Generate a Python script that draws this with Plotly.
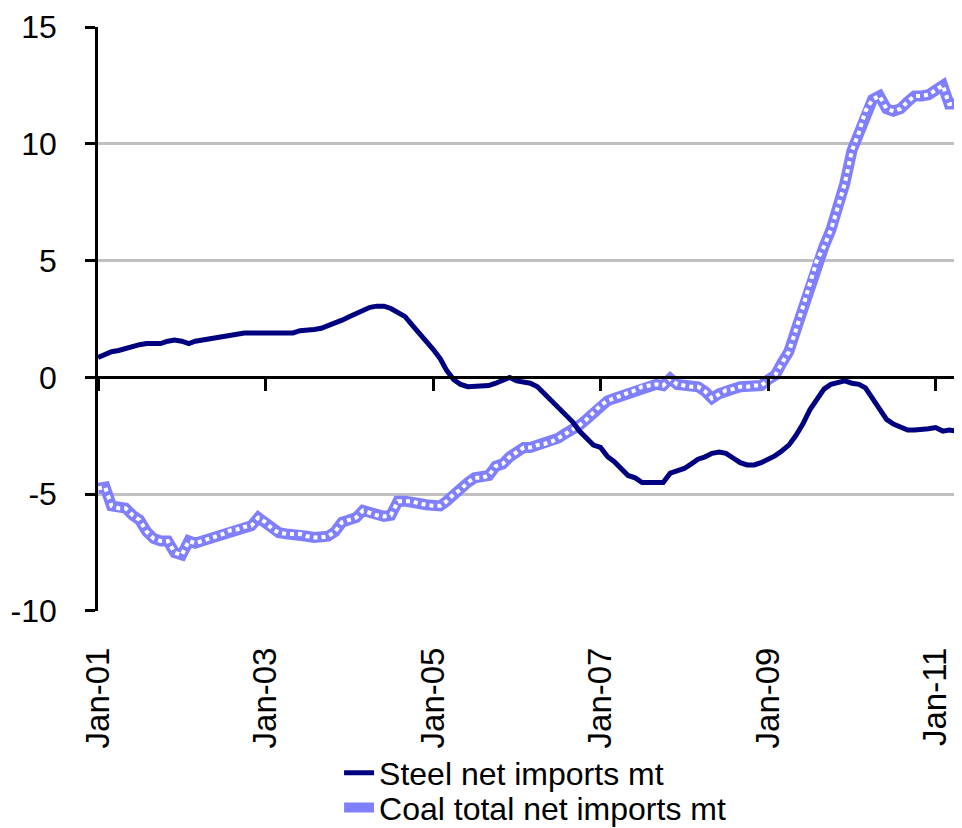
import pandas
import plotly.graph_objects as go

# monthly, Jan-2001 .. Apr-2011
months = pandas.date_range('2001-01-01', periods=124, freq='MS')

steel = [0.85, 1.0, 1.1, 1.15, 1.25, 1.3, 1.4, 1.45, 1.45, 1.45, 1.55, 1.6,
         1.55, 1.45, 1.55, 1.6, 1.65, 1.75, 1.8, 1.85, 1.9, 1.9, 1.9, 1.9,
         1.9, 1.9, 1.9, 1.9, 1.9, 2.0, 2.0, 2.05, 2.1, 2.2, 2.3, 2.45,
         2.6, 2.75, 2.9, 3.0, 3.05, 3.05, 2.95, 2.8, 2.6, 2.25, 1.9, 1.6,
         1.2, 0.8, 0.3, -0.1, -0.3, -0.4, -0.4, -0.4, -0.35, -0.25, -0.1, 0.0,
         -0.15, -0.2, -0.25, -0.4, -0.7, -1.0, -1.3, -1.6, -1.9, -2.3, -2.6, -2.9,
         -3.0, -3.4, -3.6, -3.9, -4.2, -4.3, -4.5, -4.5, -4.5, -4.5, -4.1, -4.0,
         -3.9, -3.7, -3.5, -3.4, -3.25, -3.2, -3.25, -3.45, -3.65, -3.75, -3.75, -3.65,
         -3.5, -3.35, -3.15, -2.9, -2.5, -2.0, -1.4, -0.9, -0.5, -0.3, -0.25, -0.15,
         -0.25, -0.3, -0.45, -0.9, -1.35, -1.8, -2.0, -2.1, -2.25, -2.25, -2.25, -2.2,
         -2.15, -2.3, -2.25, -2.3]

coal = [-4.75, -4.7, -5.5, -5.6, -5.6, -5.9, -6.1, -6.6, -6.9, -7.0, -7.0, -7.5,
        -7.6, -7.0, -7.1, -7.0, -6.9, -6.8, -6.7, -6.55, -6.5, -6.4, -6.35, -6.0,
        -6.2, -6.5, -6.65, -6.7, -6.7, -6.7, -6.8, -6.85, -6.85, -6.8, -6.6, -6.2,
        -6.1, -6.0, -5.7, -5.8, -5.9, -5.95, -5.9, -5.3, -5.3, -5.3, -5.4, -5.45,
        -5.5, -5.5, -5.3, -5.0, -4.8, -4.5, -4.3, -4.3, -4.2, -3.8, -3.7, -3.4,
        -3.2, -3.0, -3.0, -2.9, -2.85, -2.75, -2.6, -2.4, -2.25, -2.05, -1.8, -1.5,
        -1.2, -1.0, -0.9, -0.8, -0.65, -0.55, -0.4, -0.35, -0.3, -0.35, -0.05, -0.3,
        -0.35, -0.4, -0.4, -0.6, -0.9, -0.7, -0.55, -0.5, -0.4, -0.4, -0.35, -0.35,
        -0.1, 0.1, 0.6, 1.1, 2.0, 3.0, 3.9, 5.0, 5.6, 6.3, 7.3, 8.3,
        9.7, 10.5, 11.4, 11.9, 12.05, 11.5, 11.4, 11.5, 11.8, 12.05, 12.05, 12.1,
        12.3, 12.5, 11.7, 11.7]

tick_dates = ['2001-01-01', '2003-01-01', '2005-01-01', '2007-01-01', '2009-01-01', '2011-01-01']
tick_text = ['Jan-01', 'Jan-03', 'Jan-05', 'Jan-07', 'Jan-09', 'Jan-11']
y_ticks = [-10, -5, 0, 5, 10, 15]
y_tick_text = ['-10', '-5', '0', '5', '10', '15']

x_range = ['2001-01-01', '2011-04-26']
y_range = [-10, 15]
font = 'Liberation Sans, Arial, sans-serif'

# plot area sits in the upper part; legend lives below it inside the paper
y_dom = [0.2887, 1.0]
zero_pos = y_dom[0] + (0 - y_range[0]) / (y_range[1] - y_range[0]) * (y_dom[1] - y_dom[0])

fig = go.Figure()

fig.add_trace(go.Scatter(
    x=months, y=steel, name='Steel net imports mt', mode='lines',
    line=dict(color='#000080', width=5), xaxis='x2', legend='legend'))

fig.add_trace(go.Scatter(
    x=months, y=coal, name='Coal total net imports mt', mode='lines',
    line=dict(color='#8080FF', width=11), legend='legend2'))

# white square dots inside the coal line
fig.add_trace(go.Scatter(
    x=months, y=coal, mode='lines', showlegend=False, hoverinfo='skip',
    line=dict(color='white', width=4, dash='4px,4px')))

legend_style = dict(xanchor='left', yanchor='middle', font=dict(size=32),
                    itemwidth=30, bgcolor='rgba(0,0,0,0)')

fig.update_layout(
    template='none',
    width=954, height=840,
    margin=dict(l=90, r=0, t=19, b=0, autoexpand=False),
    paper_bgcolor='white', plot_bgcolor='white',
    font=dict(family=font, size=30, color='black'),
    showlegend=True,
    legend=dict(x=0.279, y=0.0914, **legend_style),
    legend2=dict(x=0.279, y=0.049, **legend_style),
    xaxis=dict(range=x_range, tickvals=tick_dates, ticktext=tick_text,
               tickangle=-90, showgrid=False, zeroline=False, showline=False,
               automargin=False,
               ticks='', ticklabelstandoff=29, tickfont=dict(size=33)),
    xaxis2=dict(range=x_range, tickvals=tick_dates, matches='x',
                overlaying='x', anchor='free', position=zero_pos,
                showticklabels=False, showgrid=False, zeroline=False,
                automargin=False,
                showline=True, linecolor='black', linewidth=2.5,
                ticks='outside', ticklen=12, tickwidth=2.5, tickcolor='black'),
    yaxis=dict(range=y_range, domain=y_dom, tickvals=y_ticks, ticktext=y_tick_text,
               showgrid=True, gridcolor='#C0C0C0', gridwidth=2.5, zeroline=False,
               automargin=False,
               showline=True, linecolor='black', linewidth=2.5,
               ticks='outside', ticklen=10, tickwidth=2.5, tickcolor='black',
               ticklabelstandoff=22, tickfont=dict(size=32)),
)

fig.write_html("out.html")
